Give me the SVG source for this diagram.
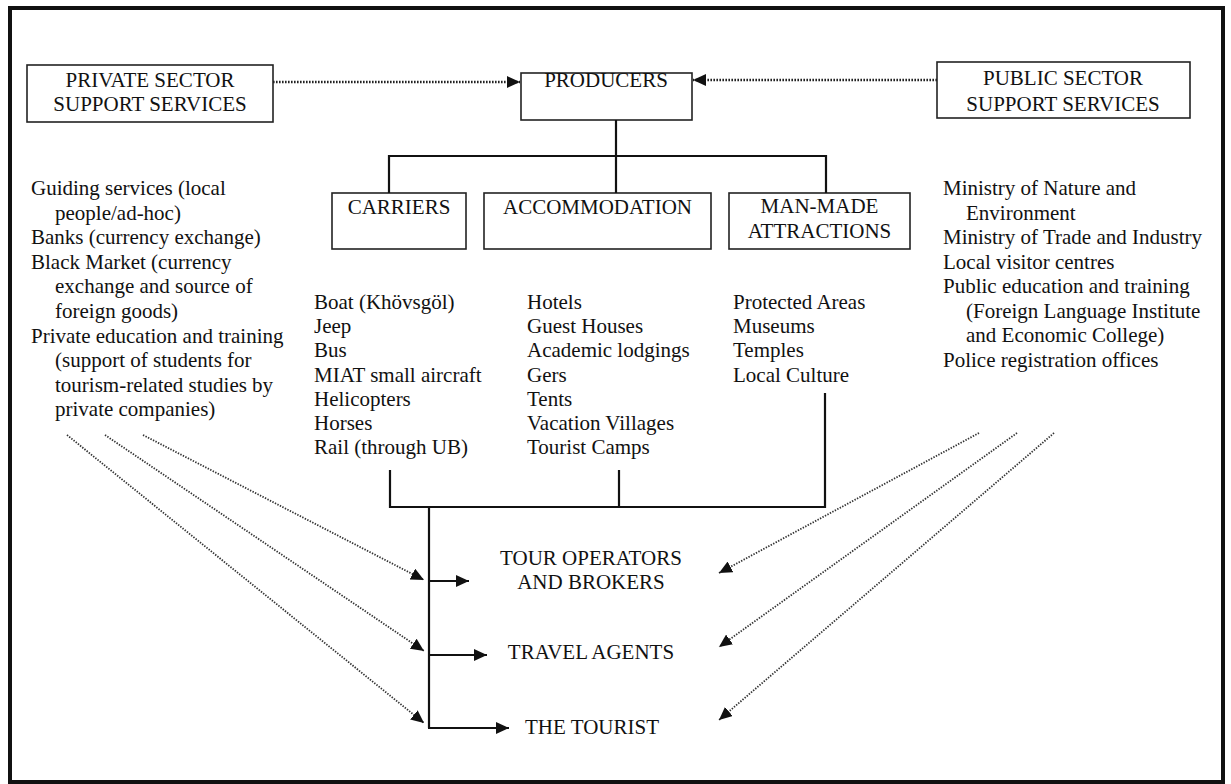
<svg xmlns="http://www.w3.org/2000/svg" width="1231" height="784" viewBox="0 0 1231 784">
  <defs>
    <style>
      .frame { fill: none; stroke: #111; stroke-width: 4; }
      .box { fill: #fff; stroke: #222; stroke-width: 1.6; }
      .label { font-family: "Liberation Serif", "Times New Roman", serif; font-size: 21px; fill: #111; }
      .mid { text-anchor: middle; }
      .solid { fill: none; stroke: #111; stroke-width: 2.2; }
      .dotted { fill: none; stroke: #222; stroke-width: 2.6; stroke-dasharray: 1.6 1.4; }
      .diag { fill: none; stroke: #333; stroke-width: 1.8; stroke-dasharray: 1.4 1.4; }
    </style>
    <marker id="head" markerUnits="userSpaceOnUse" markerWidth="14" markerHeight="12" refX="13" refY="6" orient="auto">
      <path d="M0,0 L13,6 L0,12 z" fill="#111"/>
    </marker>
  </defs>

  <rect width="1231" height="784" fill="#fff"/>
  <rect class="frame" x="10" y="8" width="1213" height="774"/>

  <!-- support services and producers -->
  <g id="private-sector">
    <rect class="box" x="27" y="65" width="246" height="57"/>
    <text class="label mid" x="150" y="87">PRIVATE SECTOR</text>
    <text class="label mid" x="150" y="111">SUPPORT SERVICES</text>
  </g>
  <g id="producers">
    <rect class="box" x="521" y="73" width="171" height="47"/>
    <text class="label mid" x="606" y="87">PRODUCERS</text>
  </g>
  <g id="public-sector">
    <rect class="box" x="937" y="62" width="253" height="56"/>
    <text class="label mid" x="1063" y="85">PUBLIC SECTOR</text>
    <text class="label mid" x="1063" y="111">SUPPORT SERVICES</text>
  </g>

  <!-- producer categories -->
  <g id="carriers">
    <rect class="box" x="332" y="193" width="134" height="56"/>
    <text class="label mid" x="399" y="214">CARRIERS</text>
  </g>
  <g id="accommodation">
    <rect class="box" x="484" y="193" width="227" height="56"/>
    <text class="label mid" x="597.5" y="214">ACCOMMODATION</text>
  </g>
  <g id="man-made-attractions">
    <rect class="box" x="729" y="193" width="181" height="56"/>
    <text class="label mid" x="819.5" y="213">MAN-MADE</text>
    <text class="label mid" x="819.5" y="238">ATTRACTIONS</text>
  </g>

  <!-- private sector list -->
  <g id="private-list">
    <text class="label">
      <tspan x="31" y="195">Guiding services (local</tspan>
      <tspan x="55" y="219.6">people/ad-hoc)</tspan>
      <tspan x="31" y="244.2">Banks (currency exchange)</tspan>
      <tspan x="31" y="268.8">Black Market (currency</tspan>
      <tspan x="55" y="293.4">exchange and source of</tspan>
      <tspan x="55" y="318">foreign goods)</tspan>
      <tspan x="31" y="342.6">Private education and training</tspan>
      <tspan x="55" y="367.2">(support of students for</tspan>
      <tspan x="55" y="391.8">tourism-related studies by</tspan>
      <tspan x="55" y="416.4">private companies)</tspan>
    </text>
  </g>

  <!-- public sector list -->
  <g id="public-list">
    <text class="label">
      <tspan x="943" y="195">Ministry of Nature and</tspan>
      <tspan x="966" y="219.5">Environment</tspan>
      <tspan x="943" y="244">Ministry of Trade and Industry</tspan>
      <tspan x="943" y="268.5">Local visitor centres</tspan>
      <tspan x="943" y="293">Public education and training</tspan>
      <tspan x="966" y="317.5">(Foreign Language Institute</tspan>
      <tspan x="966" y="342">and Economic College)</tspan>
      <tspan x="943" y="366.5">Police registration offices</tspan>
    </text>
  </g>

  <!-- producer lists -->
  <g id="carrier-list">
    <text class="label">
      <tspan x="314" y="309">Boat (Khövsgöl)</tspan>
      <tspan x="314" y="333.2">Jeep</tspan>
      <tspan x="314" y="357.4">Bus</tspan>
      <tspan x="314" y="381.6">MIAT small aircraft</tspan>
      <tspan x="314" y="405.8">Helicopters</tspan>
      <tspan x="314" y="430">Horses</tspan>
      <tspan x="314" y="454.2">Rail (through UB)</tspan>
    </text>
  </g>
  <g id="accommodation-list">
    <text class="label">
      <tspan x="527" y="309">Hotels</tspan>
      <tspan x="527" y="333.2">Guest Houses</tspan>
      <tspan x="527" y="357.4">Academic lodgings</tspan>
      <tspan x="527" y="381.6">Gers</tspan>
      <tspan x="527" y="405.8">Tents</tspan>
      <tspan x="527" y="430">Vacation Villages</tspan>
      <tspan x="527" y="454.2">Tourist Camps</tspan>
    </text>
  </g>
  <g id="attraction-list">
    <text class="label">
      <tspan x="733" y="309">Protected Areas</tspan>
      <tspan x="733" y="333.2">Museums</tspan>
      <tspan x="733" y="357.4">Temples</tspan>
      <tspan x="733" y="381.6">Local Culture</tspan>
    </text>
  </g>

  <!-- distribution chain -->
  <g id="tour-operators">
    <text class="label mid" x="591" y="565">TOUR OPERATORS</text>
    <text class="label mid" x="591" y="589">AND BROKERS</text>
  </g>
  <g id="travel-agents">
    <text class="label mid" x="591" y="659">TRAVEL AGENTS</text>
  </g>
  <g id="the-tourist">
    <text class="label mid" x="592" y="734">THE TOURIST</text>
  </g>

  <g id="connectors">
    <!-- support services feed producers -->
    <line class="dotted" x1="273" y1="82" x2="520" y2="82" marker-end="url(#head)"/>
    <line class="dotted" x1="937" y1="80" x2="693" y2="80" marker-end="url(#head)"/>

    <!-- producers to categories -->
    <line class="solid" x1="616" y1="120" x2="616" y2="156"/>
    <polyline class="solid" points="389,193 389,156 826,156 826,193"/>
    <line class="solid" x1="616" y1="156" x2="616" y2="193"/>

    <!-- categories join into the trunk -->
    <polyline class="solid" points="390,470 390,507 825,507 825,393"/>
    <line class="solid" x1="619" y1="470" x2="619" y2="507"/>
    <line class="solid" x1="429" y1="507" x2="429" y2="728"/>
    <line class="solid" x1="429" y1="581" x2="469" y2="581" marker-end="url(#head)"/>
    <line class="solid" x1="429" y1="655" x2="487" y2="655" marker-end="url(#head)"/>
    <line class="solid" x1="428" y1="728" x2="509" y2="728" marker-end="url(#head)"/>

    <!-- private sector links -->
    <line class="diag" x1="143" y1="435" x2="424" y2="580" marker-end="url(#head)"/>
    <line class="diag" x1="105" y1="435" x2="424" y2="651" marker-end="url(#head)"/>
    <line class="diag" x1="67" y1="435" x2="424" y2="723" marker-end="url(#head)"/>

    <!-- public sector links -->
    <line class="diag" x1="979" y1="433" x2="719" y2="573" marker-end="url(#head)"/>
    <line class="diag" x1="1017" y1="433" x2="719" y2="647" marker-end="url(#head)"/>
    <line class="diag" x1="1054" y1="433" x2="719" y2="720" marker-end="url(#head)"/>
  </g>
</svg>
